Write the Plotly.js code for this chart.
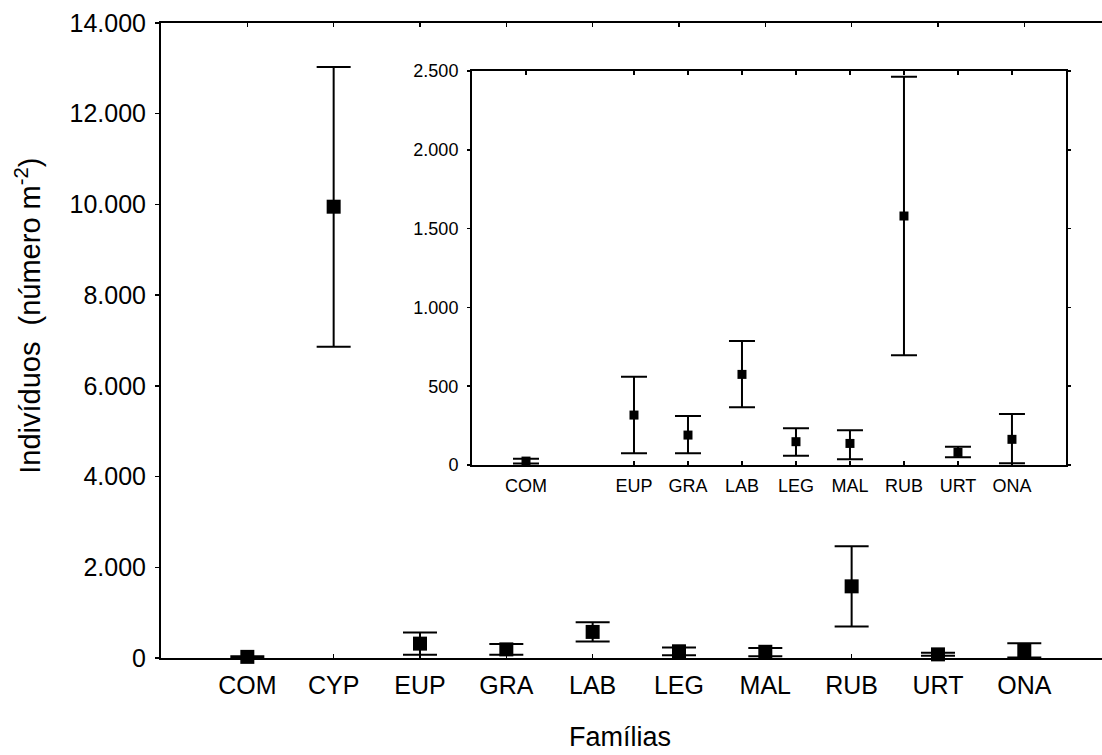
<!DOCTYPE html>
<html>
<head>
<meta charset="utf-8">
<script src="https://cdn.plot.ly/plotly-3.0.1.min.js"></script>
<style>html,body{margin:0;padding:0;background:#fff;}#chart{width:1102px;height:755px;}</style>
</head>
<body>
<div id="chart"></div>
<script>
const categories = ['COM','CYP','EUP','GRA','LAB','LEG','MAL','RUB','URT','ONA'];
const means = [25, 9950, 317, 190, 575, 148, 137, 1580, 80, 163];
const upper = [40, 13030, 560, 311, 787, 233, 220, 2464, 116, 324];
const lower = [10, 6860, 74, 74, 366, 59, 36, 696, 49, 11];
const insetCategories = ['COM','EUP','GRA','LAB','LEG','MAL','RUB','URT','ONA'];
const yTicksMain = [0, 2000, 4000, 6000, 8000, 10000, 12000, 14000];
const yTicksInset = [0, 500, 1000, 1500, 2000, 2500];
const xTitle = 'Famílias';
const yTitle = 'Indivíduos  (número m<sup>-2</sup>)';

const plus = means.map((m, i) => upper[i] - m);
const minus = means.map((m, i) => m - lower[i]);

const insetIdx = insetCategories.map(c => categories.indexOf(c));

const font = 'Liberation Sans, Arial, sans-serif';

const mainTrace = {
  x: categories, y: means, type: 'scatter', mode: 'markers',
  marker: {symbol: 'square', size: 14, color: '#000'},
  error_y: {type: 'data', symmetric: false, array: plus, arrayminus: minus,
            color: '#000', thickness: 2, width: 17},
  cliponaxis: false, showlegend: false, hoverinfo: 'none'
};
const insetTrace = {
  x: insetIdx.map(i => categories[i]), y: insetIdx.map(i => means[i]),
  xaxis: 'x2', yaxis: 'y2', type: 'scatter', mode: 'markers',
  marker: {symbol: 'square', size: 9, color: '#000'},
  error_y: {type: 'data', symmetric: false,
            array: insetIdx.map(i => plus[i]), arrayminus: insetIdx.map(i => minus[i]),
            color: '#000', thickness: 2, width: 13},
  cliponaxis: false, showlegend: false, hoverinfo: 'none'
};

const layout = {
  width: 1102, height: 755,
  margin: {l: 161, r: 0, t: 23, b: 97},
  paper_bgcolor: '#fff', plot_bgcolor: 'rgba(0,0,0,0)',
  separators: ',.',
  font: {family: font, color: '#000', size: 25},
  showlegend: false,
  xaxis: {
    type: 'category', categoryarray: categories, range: [-1, 9.9],
    domain: [0, 1], showgrid: false, zeroline: false,
    showline: true, linecolor: '#000', linewidth: 2, mirror: 'ticks',
    ticks: 'inside', ticklen: 4, tickwidth: 1.5, tickcolor: '#000',
    tickfont: {size: 25, family: font}, ticklabelstandoff: 4
  },
  yaxis: {
    range: [0, 14000], domain: [0, 1], tickvals: yTicksMain, tickformat: ',d',
    showgrid: false, zeroline: false,
    showline: true, linecolor: '#000', linewidth: 2,
    ticks: 'outside', ticklen: 4, tickwidth: 1.5, tickcolor: '#000',
    tickfont: {size: 25, family: font}, ticklabelstandoff: 4
  },
  xaxis2: {
    type: 'category', categoryarray: categories, range: [-1, 10],
    domain: [0.3305, 0.9617], anchor: 'y2',
    tickvals: insetCategories,
    showgrid: false, zeroline: false,
    showline: true, linecolor: '#000', linewidth: 2, mirror: 'ticks',
    ticks: 'inside', ticklen: 4, tickwidth: 1.5, tickcolor: '#000',
    tickfont: {size: 18, family: font}, ticklabelstandoff: 3
  },
  yaxis2: {
    range: [0, 2500], domain: [0.3039, 0.9244], anchor: 'x2',
    tickvals: yTicksInset, tickformat: ',d',
    showgrid: false, zeroline: false,
    showline: true, linecolor: '#000', linewidth: 2, mirror: 'ticks',
    ticks: 'outside', ticklen: 3, tickwidth: 1.5, tickcolor: '#000',
    tickfont: {size: 18, family: font}, ticklabelstandoff: 5
  },
  annotations: [
    {text: xTitle, xref: 'paper', yref: 'paper', x: 0.488, y: -0.124,
     xanchor: 'center', yanchor: 'middle', showarrow: false,
     font: {size: 27, family: font, color: '#000'}},
    {text: yTitle, xref: 'paper', yref: 'paper', x: -0.1413, y: 0.539,
     xanchor: 'center', yanchor: 'middle', showarrow: false, textangle: -90,
     font: {size: 29, family: font, color: '#000'}}
  ]
};

Plotly.newPlot('chart', [mainTrace, insetTrace], layout, {staticPlot: true, displayModeBar: false});
</script>
</body>
</html>
